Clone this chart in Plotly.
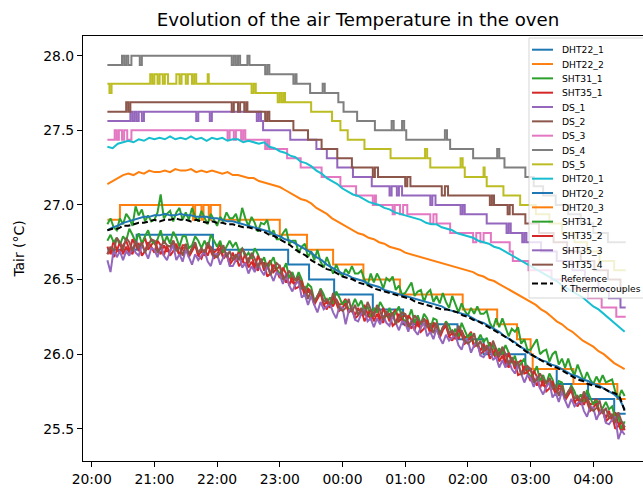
import plotly.graph_objects as go
from datetime import datetime, timedelta

# ---------------- data ----------------
BASE = datetime(2023, 1, 1)
GRID_START = "20:15"
SMOOTH_STEP_MIN = 5     # sampling used for the smooth sensors / reference
NOISY_STEP_MIN = 3      # sampling used for the noisy SHT sensors

REF_K = [26.83, 26.84, 26.84,
         26.86, 26.86, 26.87, 26.88, 26.88, 26.89,
         26.90, 26.89, 26.90, 26.90, 26.91, 26.90,
         26.90, 26.89, 26.90, 26.89, 26.88, 26.89,
         26.88, 26.88, 26.87, 26.87, 26.86, 26.85,
         26.85, 26.84, 26.83, 26.82, 26.80, 26.79,
         26.77, 26.75, 26.73, 26.70, 26.68, 26.66,
         26.63, 26.61, 26.59, 26.57, 26.56, 26.54,
         26.52, 26.51, 26.50, 26.48, 26.47, 26.46,
         26.44, 26.43, 26.42, 26.41, 26.40, 26.39,
         26.38, 26.37, 26.35, 26.34, 26.33, 26.32,
         26.31, 26.30, 26.30, 26.29, 26.28, 26.26,
         26.25, 26.23, 26.22, 26.20, 26.18, 26.16,
         26.14, 26.12, 26.10, 26.07, 26.05, 26.02,
         26.00, 25.98, 25.96, 25.94, 25.92, 25.91,
         25.89, 25.87, 25.85, 25.83, 25.82, 25.80,
         25.79, 25.78, 25.77, 25.75, 25.74, 25.72,
         25.62]

DHT20_1 = [27.39, 27.38, 27.41,
           27.42, 27.43, 27.42, 27.44, 27.43, 27.45,
           27.44, 27.45, 27.44, 27.46, 27.44, 27.45,
           27.44, 27.46, 27.44, 27.45, 27.43, 27.45,
           27.44, 27.45, 27.43, 27.44, 27.44, 27.42,
           27.43, 27.42, 27.41, 27.42, 27.39, 27.38,
           27.36, 27.35, 27.33, 27.32, 27.29, 27.28,
           27.26, 27.23, 27.21, 27.18, 27.16, 27.14,
           27.11, 27.09, 27.07, 27.06, 27.04, 27.02,
           27.01, 27.00, 26.98, 26.97, 26.95, 26.94,
           26.93, 26.92, 26.91, 26.90, 26.88, 26.87,
           26.87, 26.85, 26.84, 26.83, 26.81, 26.80,
           26.79, 26.78, 26.76, 26.75, 26.74, 26.72,
           26.71, 26.69, 26.67, 26.65, 26.63, 26.61,
           26.59, 26.57, 26.55, 26.53, 26.51, 26.49,
           26.46, 26.44, 26.42, 26.40, 26.38, 26.35,
           26.32, 26.30, 26.27, 26.24, 26.21, 26.18,
           26.15]

DHT20_2 = [26.83, 26.85, 26.86,
           26.88, 26.89, 26.90, 26.91, 26.92, 26.92,
           26.93, 26.93, 26.94, 26.93, 26.93, 26.94,
           26.93, 26.93, 26.92, 26.92, 26.92, 26.91,
           26.91, 26.90, 26.89, 26.89, 26.88, 26.87,
           26.86, 26.85, 26.84, 26.83, 26.82, 26.80,
           26.79, 26.77, 26.76, 26.74, 26.72, 26.70,
           26.68, 26.65, 26.63, 26.60, 26.58, 26.56,
           26.54, 26.53, 26.51, 26.50, 26.49, 26.47,
           26.46, 26.45, 26.43, 26.42, 26.41, 26.40,
           26.39, 26.38, 26.37, 26.36, 26.35, 26.34,
           26.33, 26.32, 26.30, 26.29, 26.28, 26.27,
           26.26, 26.24, 26.22, 26.21, 26.19, 26.17,
           26.15, 26.12, 26.10, 26.08, 26.05, 26.03,
           26.00, 25.98, 25.96, 25.95, 25.93, 25.92,
           25.90, 25.88, 25.86, 25.85, 25.83, 25.82,
           25.80, 25.79, 25.77, 25.75, 25.73, 25.70,
           25.63]

DHT20_3 = [27.14, 27.16, 27.18,
           27.20, 27.21, 27.20, 27.22, 27.21, 27.23,
           27.22, 27.22, 27.23, 27.22, 27.24, 27.23,
           27.23, 27.24, 27.22, 27.23, 27.22, 27.23,
           27.22, 27.21, 27.22, 27.20, 27.20, 27.19,
           27.18, 27.18, 27.16, 27.15, 27.14, 27.13,
           27.12, 27.10, 27.08, 27.06, 27.04, 27.03,
           27.01, 26.98, 26.96, 26.94, 26.91, 26.89,
           26.87, 26.85, 26.83, 26.81, 26.80, 26.78,
           26.77, 26.75, 26.74, 26.72, 26.71, 26.70,
           26.68, 26.67, 26.66, 26.65, 26.64, 26.63,
           26.62, 26.61, 26.60, 26.59, 26.58, 26.57,
           26.56, 26.55, 26.53, 26.52, 26.50, 26.49,
           26.47, 26.45, 26.43, 26.41, 26.39, 26.37,
           26.35, 26.33, 26.30, 26.28, 26.25, 26.22,
           26.20, 26.17, 26.15, 26.12, 26.09, 26.07,
           26.05, 26.02, 26.00, 25.97, 25.94, 25.92,
           25.90]

# noisy sensors, one row per quarter hour (3-minute samples)
SHT31_1 = [26.87, 26.91, 26.85, 26.83, 26.91,
           26.87, 26.94, 26.91, 26.86, 26.99,
           26.93, 26.97, 26.89, 26.93, 26.89,
           26.90, 26.95, 27.07, 26.91, 26.94,
           26.96, 26.89, 26.95, 26.98, 26.90,
           26.95, 26.90, 26.98, 26.92, 26.89,
           26.96, 26.91, 26.87, 26.94, 26.90,
           26.86, 26.92, 26.89, 26.95, 26.91,
           26.91, 26.94, 26.87, 26.98, 26.91,
           26.86, 26.92, 26.88, 26.82, 26.88,
           26.87, 26.90, 26.80, 26.83, 26.77,
           26.77, 26.81, 26.84, 26.74, 26.76,
           26.76, 26.68, 26.72, 26.74, 26.65,
           26.69, 26.63, 26.70, 26.62, 26.58,
           26.65, 26.59, 26.54, 26.60, 26.55,
           26.52, 26.57, 26.54, 26.59, 26.54,
           26.54, 26.56, 26.50, 26.46, 26.54,
           26.48, 26.54, 26.50, 26.44, 26.51,
           26.49, 26.52, 26.43, 26.46, 26.40,
           26.41, 26.45, 26.48, 26.39, 26.42,
           26.43, 26.35, 26.41, 26.43, 26.35,
           26.39, 26.34, 26.41, 26.35, 26.31,
           26.39, 26.33, 26.28, 26.34, 26.29,
           26.26, 26.31, 26.27, 26.32, 26.27,
           26.27, 26.29, 26.21, 26.17, 26.24,
           26.18, 26.24, 26.18, 26.12, 26.17,
           26.15, 26.18, 26.07, 26.10, 26.03,
           26.03, 26.07, 26.10, 26.00, 26.02,
           26.03, 25.95, 26.00, 26.02, 25.93,
           25.97, 25.91, 25.97, 25.90, 25.86,
           25.93, 25.87, 25.82, 25.88, 25.83,
           25.80, 25.85, 25.81, 25.86, 25.81,
           25.82, 25.83, 25.75, 25.70, 25.76,
           25.72]

SHT35_1 = [26.72, 26.67, 26.76, 26.70, 26.68,
           26.73, 26.76, 26.70, 26.67, 26.75,
           26.69, 26.74, 26.78, 26.70, 26.73,
           26.76, 26.71, 26.67, 26.73, 26.69,
           26.69, 26.76, 26.71, 26.66, 26.73,
           26.73, 26.66, 26.71, 26.74, 26.66,
           26.64, 26.70, 26.66, 26.72, 26.68,
           26.70, 26.74, 26.64, 26.68, 26.62,
           26.68, 26.62, 26.70, 26.63, 26.60,
           26.64, 26.66, 26.59, 26.56, 26.63,
           26.56, 26.60, 26.63, 26.55, 26.57,
           26.59, 26.53, 26.48, 26.53, 26.48,
           26.47, 26.52, 26.46, 26.39, 26.44,
           26.42, 26.34, 26.39, 26.42, 26.33,
           26.30, 26.35, 26.32, 26.37, 26.33,
           26.34, 26.37, 26.28, 26.31, 26.26,
           26.31, 26.26, 26.33, 26.27, 26.23,
           26.28, 26.31, 26.24, 26.21, 26.28,
           26.22, 26.27, 26.30, 26.22, 26.24,
           26.27, 26.21, 26.17, 26.23, 26.19,
           26.18, 26.24, 26.20, 26.14, 26.21,
           26.20, 26.12, 26.18, 26.20, 26.12,
           26.09, 26.14, 26.10, 26.16, 26.11,
           26.12, 26.15, 26.05, 26.08, 26.02,
           26.07, 26.01, 26.08, 26.01, 25.97,
           26.01, 26.03, 25.95, 25.91, 25.97,
           25.90, 25.94, 25.96, 25.87, 25.88,
           25.90, 25.84, 25.79, 25.84, 25.79,
           25.78, 25.84, 25.79, 25.73, 25.79,
           25.78, 25.70, 25.75, 25.77, 25.68,
           25.65, 25.70, 25.66, 25.71, 25.66,
           25.67, 25.70, 25.60, 25.63, 25.57,
           25.62, 25.55, 25.61, 25.53, 25.48,
           25.52]

SHT31_2 = [26.76, 26.80, 26.75, 26.78, 26.73,
           26.79, 26.76, 26.84, 26.80, 26.75,
           26.81, 26.74, 26.79, 26.83, 26.76,
           26.74, 26.77, 26.83, 26.74, 26.79,
           26.74, 26.82, 26.78, 26.72, 26.79,
           26.79, 26.71, 26.73, 26.79, 26.76,
           26.71, 26.76, 26.71, 26.80, 26.76,
           26.72, 26.76, 26.68, 26.72, 26.76,
           26.72, 26.75, 26.69, 26.71, 26.65,
           26.68, 26.64, 26.71, 26.67, 26.61,
           26.65, 26.57, 26.61, 26.65, 26.57,
           26.54, 26.56, 26.61, 26.51, 26.55,
           26.49, 26.55, 26.50, 26.42, 26.47,
           26.45, 26.36, 26.38, 26.44, 26.40,
           26.34, 26.38, 26.34, 26.42, 26.38,
           26.33, 26.36, 26.29, 26.32, 26.37,
           26.32, 26.36, 26.29, 26.32, 26.25,
           26.31, 26.28, 26.35, 26.31, 26.25,
           26.31, 26.24, 26.28, 26.32, 26.24,
           26.22, 26.24, 26.30, 26.21, 26.26,
           26.20, 26.27, 26.24, 26.17, 26.24,
           26.23, 26.14, 26.17, 26.22, 26.19,
           26.13, 26.17, 26.12, 26.21, 26.16,
           26.11, 26.14, 26.06, 26.09, 26.13,
           26.08, 26.11, 26.04, 26.06, 25.99,
           26.04, 26.00, 26.06, 26.01, 25.94,
           25.99, 25.91, 25.94, 25.97, 25.88,
           25.85, 25.87, 25.92, 25.82, 25.86,
           25.80, 25.87, 25.83, 25.76, 25.82,
           25.81, 25.72, 25.74, 25.79, 25.75,
           25.69, 25.73, 25.68, 25.76, 25.71,
           25.66, 25.69, 25.61, 25.64, 25.68,
           25.63, 25.65, 25.57, 25.58, 25.50,
           25.55]

SHT35_2 = [26.67, 26.71, 26.65, 26.69, 26.75,
           26.67, 26.72, 26.68, 26.77, 26.73,
           26.74, 26.66, 26.69, 26.75, 26.72,
           26.68, 26.76, 26.73, 26.66, 26.73,
           26.66, 26.69, 26.74, 26.66, 26.71,
           26.72, 26.65, 26.69, 26.73, 26.66,
           26.69, 26.66, 26.73, 26.69, 26.64,
           26.67, 26.71, 26.64, 26.67, 26.60,
           26.63, 26.66, 26.59, 26.62, 26.67,
           26.58, 26.62, 26.57, 26.66, 26.61,
           26.61, 26.52, 26.54, 26.60, 26.56,
           26.51, 26.58, 26.54, 26.46, 26.52,
           26.44, 26.45, 26.49, 26.39, 26.42,
           26.41, 26.33, 26.37, 26.41, 26.33,
           26.35, 26.31, 26.39, 26.34, 26.29,
           26.31, 26.34, 26.28, 26.30, 26.24,
           26.26, 26.30, 26.22, 26.26, 26.30,
           26.22, 26.27, 26.22, 26.31, 26.26,
           26.27, 26.19, 26.21, 26.27, 26.23,
           26.19, 26.26, 26.23, 26.16, 26.23,
           26.15, 26.17, 26.23, 26.14, 26.19,
           26.19, 26.11, 26.16, 26.19, 26.12,
           26.14, 26.10, 26.17, 26.13, 26.07,
           26.09, 26.12, 26.05, 26.07, 26.00,
           26.02, 26.05, 25.97, 26.00, 26.04,
           25.95, 25.99, 25.93, 26.01, 25.95,
           25.95, 25.86, 25.87, 25.92, 25.87,
           25.82, 25.89, 25.85, 25.77, 25.83,
           25.75, 25.77, 25.82, 25.73, 25.77,
           25.77, 25.69, 25.73, 25.76, 25.68,
           25.70, 25.66, 25.73, 25.68, 25.62,
           25.64, 25.67, 25.60, 25.62, 25.55,
           25.57, 25.59, 25.50, 25.52, 25.55,
           25.49]

SHT35_3 = [26.63, 26.55, 26.70, 26.65, 26.69,
           26.63, 26.69, 26.66, 26.72, 26.68,
           26.66, 26.73, 26.69, 26.64, 26.71,
           26.70, 26.65, 26.73, 26.66, 26.63,
           26.69, 26.73, 26.63, 26.67, 26.62,
           26.70, 26.65, 26.60, 26.67, 26.63,
           26.66, 26.69, 26.62, 26.59, 26.67,
           26.67, 26.60, 26.65, 26.68, 26.59,
           26.59, 26.63, 26.67, 26.58, 26.61,
           26.54, 26.59, 26.55, 26.61, 26.56,
           26.53, 26.59, 26.54, 26.49, 26.55,
           26.53, 26.47, 26.54, 26.46, 26.42,
           26.47, 26.49, 26.38, 26.40, 26.33,
           26.39, 26.33, 26.28, 26.35, 26.30,
           26.32, 26.34, 26.28, 26.24, 26.32,
           26.31, 26.20, 26.29, 26.31, 26.23,
           26.22, 26.27, 26.30, 26.22, 26.24,
           26.18, 26.24, 26.20, 26.26, 26.21,
           26.19, 26.26, 26.21, 26.16, 26.22,
           26.21, 26.15, 26.23, 26.16, 26.13,
           26.18, 26.21, 26.12, 26.15, 26.10,
           26.17, 26.11, 26.07, 26.13, 26.09,
           26.11, 26.13, 26.06, 26.03, 26.10,
           26.09, 26.01, 26.06, 26.08, 25.99,
           25.98, 26.02, 26.05, 25.96, 25.98,
           25.91, 25.96, 25.91, 25.96, 25.90,
           25.87, 25.93, 25.87, 25.81, 25.86,
           25.84, 25.78, 25.85, 25.77, 25.73,
           25.78, 25.81, 25.71, 25.74, 25.68,
           25.75, 25.69, 25.64, 25.70, 25.65,
           25.67, 25.69, 25.62, 25.58, 25.65,
           25.64, 25.56, 25.61, 25.63, 25.54,
           25.53, 25.56, 25.58, 25.43, 25.49,
           25.46]

SHT35_4 = [26.67, 26.72, 26.69, 26.78, 26.75,
           26.70, 26.78, 26.75, 26.69, 26.76,
           26.71, 26.75, 26.68, 26.72, 26.77,
           26.76, 26.68, 26.71, 26.76, 26.73,
           26.72, 26.76, 26.69, 26.72, 26.66,
           26.74, 26.67, 26.71, 26.75, 26.68,
           26.71, 26.68, 26.75, 26.71, 26.66,
           26.65, 26.68, 26.73, 26.65, 26.69,
           26.63, 26.67, 26.63, 26.71, 26.67,
           26.61, 26.68, 26.64, 26.58, 26.64,
           26.58, 26.61, 26.53, 26.57, 26.61,
           26.59, 26.50, 26.52, 26.56, 26.52,
           26.50, 26.52, 26.44, 26.45, 26.37,
           26.43, 26.35, 26.39, 26.43, 26.35,
           26.37, 26.33, 26.41, 26.36, 26.31,
           26.29, 26.31, 26.37, 26.28, 26.33,
           26.26, 26.31, 26.26, 26.35, 26.30,
           26.25, 26.33, 26.29, 26.23, 26.29,
           26.24, 26.28, 26.20, 26.24, 26.28,
           26.27, 26.18, 26.21, 26.26, 26.23,
           26.21, 26.24, 26.18, 26.20, 26.14,
           26.21, 26.13, 26.18, 26.21, 26.14,
           26.16, 26.12, 26.19, 26.15, 26.09,
           26.07, 26.09, 26.14, 26.05, 26.09,
           26.02, 26.06, 26.01, 26.09, 26.04,
           25.98, 26.05, 26.00, 25.93, 25.98,
           25.92, 25.95, 25.86, 25.89, 25.92,
           25.90, 25.81, 25.83, 25.87, 25.83,
           25.81, 25.84, 25.77, 25.79, 25.72,
           25.79, 25.71, 25.75, 25.78, 25.70,
           25.72, 25.68, 25.75, 25.70, 25.64,
           25.62, 25.64, 25.69, 25.60, 25.64,
           25.57, 25.60, 25.54, 25.61, 25.55,
           25.51]

# Quantised sensors: (time of change, new value)
DHT22_1 = [("20:15", 26.7), ("20:43", 26.8), ("21:56", 26.7), ("23:08", 26.6),
           ("23:28", 26.5), ("23:52", 26.4), ("00:29", 26.3), ("00:58", 26.2),
           ("01:50", 26.1), ("02:15", 26.0), ("02:55", 25.9), ("03:25", 25.8),
           ("03:55", 25.7), ("04:20", 25.6), ("04:31", 25.6)]

DHT22_2 = [("20:15", 26.9), ("20:27", 27.0), ("21:37", 26.9), ("21:39", 27.0),
           ("21:45", 26.9), ("21:47", 27.0), ("21:52", 26.9), ("21:54", 27.0),
           ("22:03", 26.9), ("23:00", 26.8), ("23:26", 26.7), ("23:51", 26.6),
           ("00:20", 26.5), ("00:55", 26.4), ("01:55", 26.3), ("02:28", 26.2),
           ("02:47", 26.1), ("03:00", 26.0), ("03:02", 25.9), ("03:41", 25.8),
           ("04:23", 25.7), ("04:31", 25.7)]

DS_1 = [("20:15", 27.5625), ("20:37", 27.625), ("20:39", 27.5625), ("20:41", 27.625),
        ("20:43", 27.5625), ("20:45", 27.625), ("20:48", 27.5625), ("20:50", 27.625),
        ("21:40", 27.5625), ("21:42", 27.625), ("21:53", 27.5625), ("21:55", 27.625),
        ("22:38", 27.5625), ("22:40", 27.625), ("22:42", 27.5625), ("22:44", 27.5),
        ("23:10", 27.4375), ("23:35", 27.375), ("23:45", 27.3125), ("23:55", 27.25),
        ("00:10", 27.1875), ("00:28", 27.125), ("00:45", 27.0625), ("00:47", 27.125),
        ("00:52", 27.0625), ("00:54", 27.125), ("00:57", 27.0625), ("01:24", 27.0),
        ("01:26", 27.0625), ("01:29", 27.0), ("01:53", 26.9375), ("01:55", 27.0),
        ("01:57", 26.9375), ("02:18", 26.875), ("02:37", 26.8125), ("02:39", 26.875),
        ("02:41", 26.8125), ("02:52", 26.75), ("02:54", 26.8125), ("02:56", 26.75),
        ("03:10", 26.6875), ("03:25", 26.625), ("03:40", 26.5625), ("03:52", 26.5),
        ("04:05", 26.4375), ("04:15", 26.375), ("04:26", 26.3125), ("04:31", 26.3125)]

DS_2 = [("20:15", 27.625), ("20:33", 27.6875), ("20:35", 27.625), ("20:37", 27.6875),
        ("22:14", 27.625), ("22:16", 27.6875), ("22:20", 27.625), ("22:22", 27.6875),
        ("22:26", 27.625), ("22:28", 27.6875), ("22:29", 27.625), ("22:46", 27.5625),
        ("22:48", 27.625), ("22:50", 27.5625), ("23:13", 27.5), ("23:27", 27.4375),
        ("23:40", 27.375), ("23:55", 27.3125), ("00:09", 27.25), ("00:29", 27.1875),
        ("00:31", 27.25), ("00:34", 27.1875), ("01:00", 27.125), ("01:02", 27.1875),
        ("01:05", 27.125), ("01:35", 27.0625), ("01:38", 27.125), ("01:41", 27.0625),
        ("02:21", 27.0), ("02:23", 27.0625), ("02:25", 27.0), ("02:38", 26.9375),
        ("02:40", 27.0), ("02:43", 26.9375), ("02:55", 26.875), ("03:08", 26.8125),
        ("03:22", 26.75), ("03:35", 26.6875), ("03:48", 26.625), ("04:01", 26.5625),
        ("04:14", 26.5), ("04:26", 26.4375), ("04:31", 26.4375)]

DS_3 = [("20:15", 27.4375), ("20:22", 27.5), ("20:24", 27.4375), ("20:26", 27.5),
        ("20:29", 27.4375), ("20:31", 27.5), ("20:34", 27.4375), ("20:38", 27.5),
        ("22:10", 27.4375), ("22:12", 27.5), ("22:16", 27.4375), ("22:18", 27.5),
        ("22:23", 27.4375), ("22:25", 27.5), ("22:27", 27.4375), ("22:46", 27.375),
        ("22:48", 27.4375), ("22:50", 27.375), ("23:07", 27.3125), ("23:20", 27.25),
        ("23:40", 27.1875), ("23:58", 27.125), ("00:13", 27.0625), ("00:29", 27.0),
        ("00:31", 27.0625), ("00:32", 27.0), ("00:48", 26.9375), ("00:50", 27.0),
        ("00:55", 26.9375), ("00:58", 27.0), ("01:02", 26.9375), ("01:24", 26.875),
        ("01:27", 26.9375), ("01:30", 26.875), ("01:43", 26.8125), ("02:05", 26.75),
        ("02:08", 26.8125), ("02:12", 26.75), ("02:15", 26.8125), ("02:22", 26.75),
        ("02:40", 26.6875), ("02:43", 26.625), ("02:58", 26.5625), ("03:20", 26.5),
        ("03:40", 26.4375), ("03:55", 26.375), ("04:08", 26.3125), ("04:22", 26.25),
        ("04:31", 26.25)]

DS_4 = [("20:15", 27.9375), ("20:29", 28.0), ("20:31", 27.9375), ("20:33", 28.0),
        ("20:35", 27.9375), ("20:38", 28.0), ("20:46", 27.9375), ("20:48", 28.0),
        ("22:14", 27.9375), ("22:16", 28.0), ("22:18", 27.9375), ("22:20", 28.0),
        ("22:22", 27.9375), ("22:29", 28.0), ("22:31", 27.9375), ("22:46", 27.875),
        ("22:48", 27.9375), ("22:50", 27.875), ("23:13", 27.8125), ("23:15", 27.875),
        ("23:16", 27.8125), ("23:29", 27.75), ("23:41", 27.8125), ("23:43", 27.75),
        ("23:56", 27.6875), ("00:01", 27.625), ("00:14", 27.5625), ("00:31", 27.5),
        ("00:47", 27.5625), ("00:49", 27.5), ("00:57", 27.5625), ("00:59", 27.5),
        ("01:01", 27.4375), ("01:38", 27.5), ("01:40", 27.4375), ("01:43", 27.375),
        ("02:05", 27.3125), ("02:28", 27.375), ("02:30", 27.3125), ("02:35", 27.25),
        ("02:55", 27.1875), ("03:03", 27.125), ("03:12", 27.0625), ("03:24", 27.0),
        ("03:36", 26.9375), ("03:48", 26.875), ("04:00", 26.8125), ("04:14", 26.75),
        ("04:31", 26.75)]

DS_5 = [("20:15", 27.8125), ("20:17", 27.75), ("20:19", 27.8125), ("20:56", 27.875),
        ("20:58", 27.8125), ("21:00", 27.875), ("21:03", 27.8125), ("21:05", 27.875),
        ("21:08", 27.8125), ("21:10", 27.875), ("21:13", 27.8125), ("21:21", 27.875),
        ("21:24", 27.8125), ("21:26", 27.875), ("21:30", 27.8125), ("21:32", 27.875),
        ("21:36", 27.8125), ("21:38", 27.875), ("21:40", 27.8125), ("21:51", 27.875),
        ("21:52", 27.8125), ("22:33", 27.75), ("22:35", 27.8125), ("22:37", 27.75),
        ("22:58", 27.6875), ("23:00", 27.75), ("23:02", 27.6875), ("23:04", 27.75),
        ("23:05", 27.6875), ("23:30", 27.625), ("23:50", 27.5625), ("23:58", 27.5),
        ("00:05", 27.4375), ("00:21", 27.375), ("00:46", 27.3125), ("01:19", 27.375),
        ("01:21", 27.3125), ("01:24", 27.25), ("01:53", 27.3125), ("01:55", 27.25),
        ("01:57", 27.1875), ("02:15", 27.25), ("02:16", 27.1875), ("02:18", 27.125),
        ("02:34", 27.0625), ("02:50", 27.0), ("03:05", 26.9375), ("03:18", 26.875),
        ("03:30", 26.8125), ("03:42", 26.75), ("03:54", 26.6875), ("04:06", 26.625),
        ("04:20", 26.5625), ("04:31", 26.5625)]

NAMES = ["DHT22_1", "DHT22_2", "SHT31_1", "SHT35_1", "DS_1", "DS_2", "DS_3", "DS_4",
         "DS_5", "DHT20_1", "DHT20_2", "DHT20_3", "SHT31_2", "SHT35_2", "SHT35_3", "SHT35_4"]
REF_LABEL = ["Reference", "K Thermocouples"]
TITLE = "Evolution of the air Temperature in the oven"
Y_LABEL = "Tair (°C)"
Y_TICKS = [25.5, 26.0, 26.5, 27.0, 27.5, 28.0]

# ---------------- styling ----------------
TAB10 = ["#1f77b4", "#ff7f0e", "#2ca02c", "#d62728", "#9467bd",
         "#8c564b", "#e377c2", "#7f7f7f", "#bcbd22", "#17becf"]
FONT = "DejaVu Sans"
W, H = 643, 491
ML, MR, MT, MB = 83, 0, 36, 30
LEG_FONT = 9.2


def to_time(hhmm):
    h, m = map(int, hhmm.split(":"))
    d = BASE + timedelta(hours=h, minutes=m)
    if h < 12:
        d += timedelta(days=1)
    return d


def grid(n, step):
    start = to_time(GRID_START)
    return [start + timedelta(minutes=step * i) for i in range(n)]


series = {
    "DHT22_1": ("step", DHT22_1), "DHT22_2": ("step", DHT22_2),
    "SHT31_1": ("noisy", SHT31_1), "SHT35_1": ("noisy", SHT35_1),
    "DS_1": ("step", DS_1), "DS_2": ("step", DS_2), "DS_3": ("step", DS_3),
    "DS_4": ("step", DS_4), "DS_5": ("step", DS_5),
    "DHT20_1": ("smooth", DHT20_1), "DHT20_2": ("smooth", DHT20_2),
    "DHT20_3": ("smooth", DHT20_3),
    "SHT31_2": ("noisy", SHT31_2), "SHT35_2": ("noisy", SHT35_2),
    "SHT35_3": ("noisy", SHT35_3), "SHT35_4": ("noisy", SHT35_4),
}

fig = go.Figure()
for i, name in enumerate(NAMES):
    kind, data = series[name]
    color = TAB10[i % 10]
    if kind == "step":
        xs = [to_time(t) for t, _ in data]
        ys = [v for _, v in data]
        shape = "hv"
    else:
        xs = grid(len(data), NOISY_STEP_MIN if kind == "noisy" else SMOOTH_STEP_MIN)
        ys = data
        shape = "linear"
    fig.add_trace(go.Scatter(x=xs, y=ys, mode="lines", name=name, showlegend=False,
                             line=dict(color=color, width=2, shape=shape)))

fig.add_trace(go.Scatter(x=grid(len(REF_K), SMOOTH_STEP_MIN), y=REF_K, mode="lines",
                         name=" ".join(REF_LABEL), showlegend=False,
                         line=dict(color="black", width=2, dash="6px,3px")))

# ---------------- axes ----------------
x0 = to_time("20:00") - timedelta(hours=0.1388)
x1 = to_time("20:00") + timedelta(hours=8.7927)
fig.update_xaxes(range=[x0, x1], type="date", tickformat="%H:%M",
                 tick0=to_time("20:00"), dtick=3600000,
                 showline=True, linecolor="black", linewidth=1, mirror=True,
                 ticks="outside", ticklen=5, tickwidth=1, tickcolor="black",
                 showgrid=False, zeroline=False,
                 tickfont=dict(family=FONT, size=13.9, color="black"))
fig.update_yaxes(range=[25.284, 28.132], tickvals=Y_TICKS,
                 ticktext=[f"{v:.1f}" for v in Y_TICKS],
                 showline=True, linecolor="black", linewidth=1, mirror=False,
                 ticks="outside", ticklen=5, tickwidth=1, tickcolor="black",
                 showgrid=False, zeroline=False,
                 tickfont=dict(family=FONT, size=13.9, color="black"),
                 title=dict(text=Y_LABEL, font=dict(family=FONT, size=13.9, color="black"),
                            standoff=15))

# ---------------- legend (matplotlib style, drawn in paper space) ----------------
PW, PH = W - ML - MR, H - MT - MB


def px(xp):
    return (xp - ML) / PW


def py(yp):
    return (H - MB - yp) / PH


shapes = [dict(type="rect", xref="paper", yref="paper", x0=px(529), x1=px(652),
               y0=py(298), y1=py(38), fillcolor="rgba(255,255,255,0.8)",
               line=dict(color="rgba(204,204,204,0.8)", width=1), layer="above")]
annotations = []
ROW0, PITCH = 49.7, 14.33
for i, name in enumerate(NAMES):
    yy = ROW0 + PITCH * i
    shapes.append(dict(type="line", xref="paper", yref="paper", x0=px(532), x1=px(553),
                       y0=py(yy), y1=py(yy), layer="above",
                       line=dict(color=TAB10[i % 10], width=2)))
    annotations.append(dict(text=name, xref="paper", yref="paper", x=px(560), y=py(yy),
                            xanchor="left", yanchor="middle", showarrow=False,
                            font=dict(family=FONT, size=LEG_FONT, color="black")))
yy = ROW0 + PITCH * len(NAMES) + 4.5
shapes.append(dict(type="line", xref="paper", yref="paper", x0=px(532), x1=px(553),
                   y0=py(yy), y1=py(yy), layer="above",
                   line=dict(color="black", width=2, dash="6px,3px")))
for k, txt in enumerate(REF_LABEL):
    annotations.append(dict(text=txt, xref="paper", yref="paper", x=px(559),
                            y=py(yy - 5.3 + 10.7 * k), xanchor="left", yanchor="middle",
                            showarrow=False,
                            font=dict(family=FONT, size=LEG_FONT, color="black")))

fig.update_layout(
    width=W, height=H, margin=dict(l=ML, r=MR, t=MT, b=MB, autoexpand=False),
    paper_bgcolor="white", plot_bgcolor="white",
    title=dict(text=TITLE, x=358 / W, xanchor="center", xref="container",
               y=1 - 20 / H, yanchor="middle", yref="container",
               font=dict(family=FONT, size=18.2, color="black")),
    shapes=shapes, annotations=annotations, showlegend=False,
)

# the page's default 8px body margin would shift the whole figure; remove it
fig.write_html("out.html", config={"displayModeBar": False},
               post_script="document.body.style.margin='0px';")
